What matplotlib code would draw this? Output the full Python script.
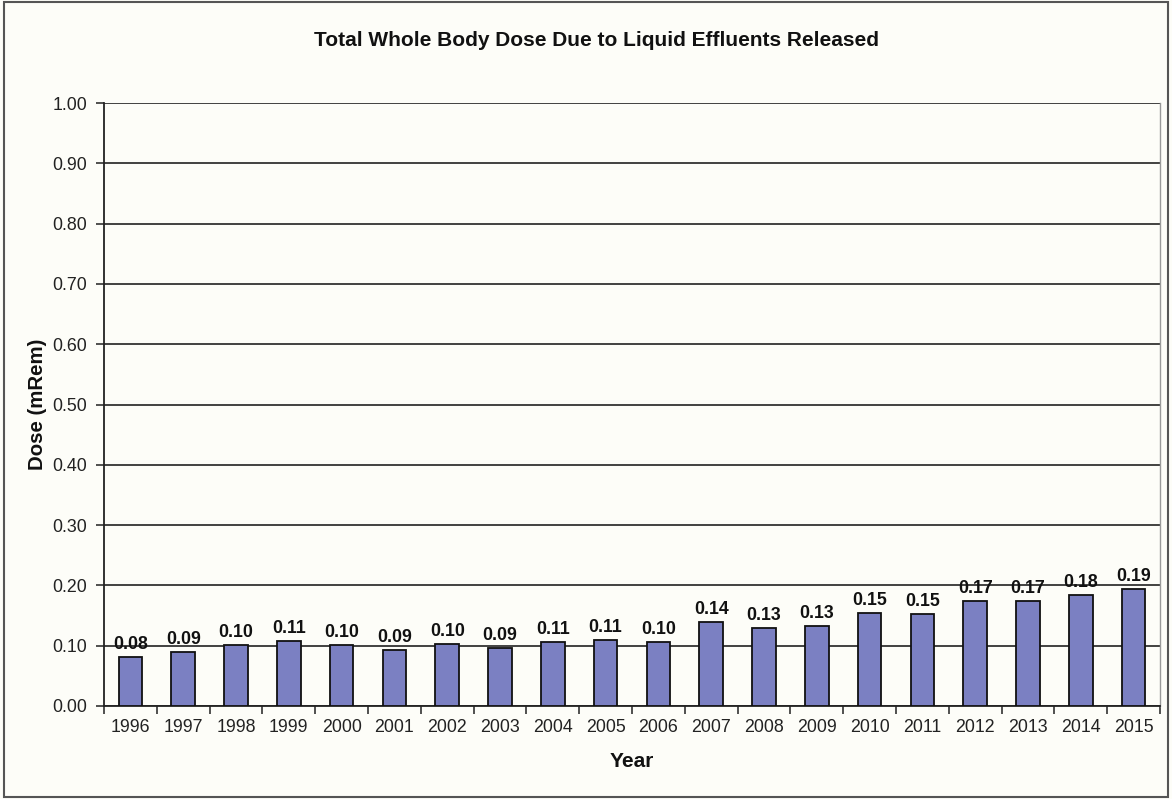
import matplotlib
matplotlib.use("Agg")
import matplotlib.pyplot as plt
import numpy as np
from matplotlib.patches import Rectangle

years = ["1996", "1997", "1998", "1999", "2000", "2001", "2002", "2003", "2004", "2005",
         "2006", "2007", "2008", "2009", "2010", "2011", "2012", "2013", "2014", "2015"]
dose = [0.081, 0.090, 0.101, 0.108, 0.101, 0.093, 0.103, 0.096, 0.106, 0.109,
        0.106, 0.139, 0.129, 0.133, 0.154, 0.153, 0.174, 0.174, 0.184, 0.194]
labels = ["0.08", "0.09", "0.10", "0.11", "0.10", "0.09", "0.10", "0.09", "0.11", "0.11",
          "0.10", "0.14", "0.13", "0.13", "0.15", "0.15", "0.17", "0.17", "0.18", "0.19"]
yticks = [0.0, 0.1, 0.2, 0.3, 0.4, 0.5, 0.6, 0.7, 0.8, 0.9, 1.0]

plt.rcParams['font.family'] = ['Liberation Sans', 'DejaVu Sans']

bg = '#fdfdf8'
fig = plt.figure(figsize=(11.72, 7.99), dpi=100, facecolor=bg)
fig.patches.append(Rectangle((0.003, 0.003), 0.994, 0.994, transform=fig.transFigure,
                             fill=False, edgecolor='#555555', linewidth=1.5))
ax = fig.add_axes([104/1172, 1-706/799, (1160-104)/1172, (706-103)/799])
ax.set_facecolor(bg)

x = np.arange(len(years))
ax.bar(x, dose, width=0.45, color='#7b80c2', edgecolor='#111111', linewidth=1.3, zorder=3)
for xi, v, lab in zip(x, dose, labels):
    ax.text(xi, v + 0.007, lab, ha='center', va='bottom', fontsize=12.8,
            fontweight='bold', color='#111111', zorder=4)

ax.set_xlim(-0.5, len(years) - 0.5)
ax.set_ylim(0, 1.0)
ax.set_yticks(yticks)
ax.set_yticklabels([f"{t:.2f}" for t in yticks], fontsize=12.8, color='#222222')
ax.set_xticks(x)
ax.set_xticklabels(years, fontsize=12.8, color='#222222')
ax.tick_params(axis='x', length=0, pad=9)
ax.set_xticks(np.arange(-0.5, len(years), 1.0), minor=True)
ax.tick_params(axis='x', which='minor', length=6, width=1.2, color='#333333', direction='out')
ax.tick_params(axis='y', length=6, width=1.2, color='#333333', direction='out', pad=6)

ax.grid(axis='y', color='#222222', linewidth=1.2, zorder=1)
for s in ['left', 'bottom']:
    ax.spines[s].set_color('#222222')
    ax.spines[s].set_linewidth(1.3)
ax.spines['top'].set_visible(False)
ax.spines['right'].set_color('#999999')
ax.spines['right'].set_linewidth(1.0)

ax.set_xlabel("Year", fontsize=15, fontweight='bold', labelpad=12, color='#111111')
ax.set_ylabel("Dose (mRem)", fontsize=14.7, fontweight='bold', labelpad=4, color='#111111')
fig.text(596/1172, 1-41/799, "Total Whole Body Dose Due to Liquid Effluents Released",
         ha='center', va='center', fontsize=15, fontweight='bold', color='#111111')

fig.savefig("out.png", dpi=100, facecolor=bg)
